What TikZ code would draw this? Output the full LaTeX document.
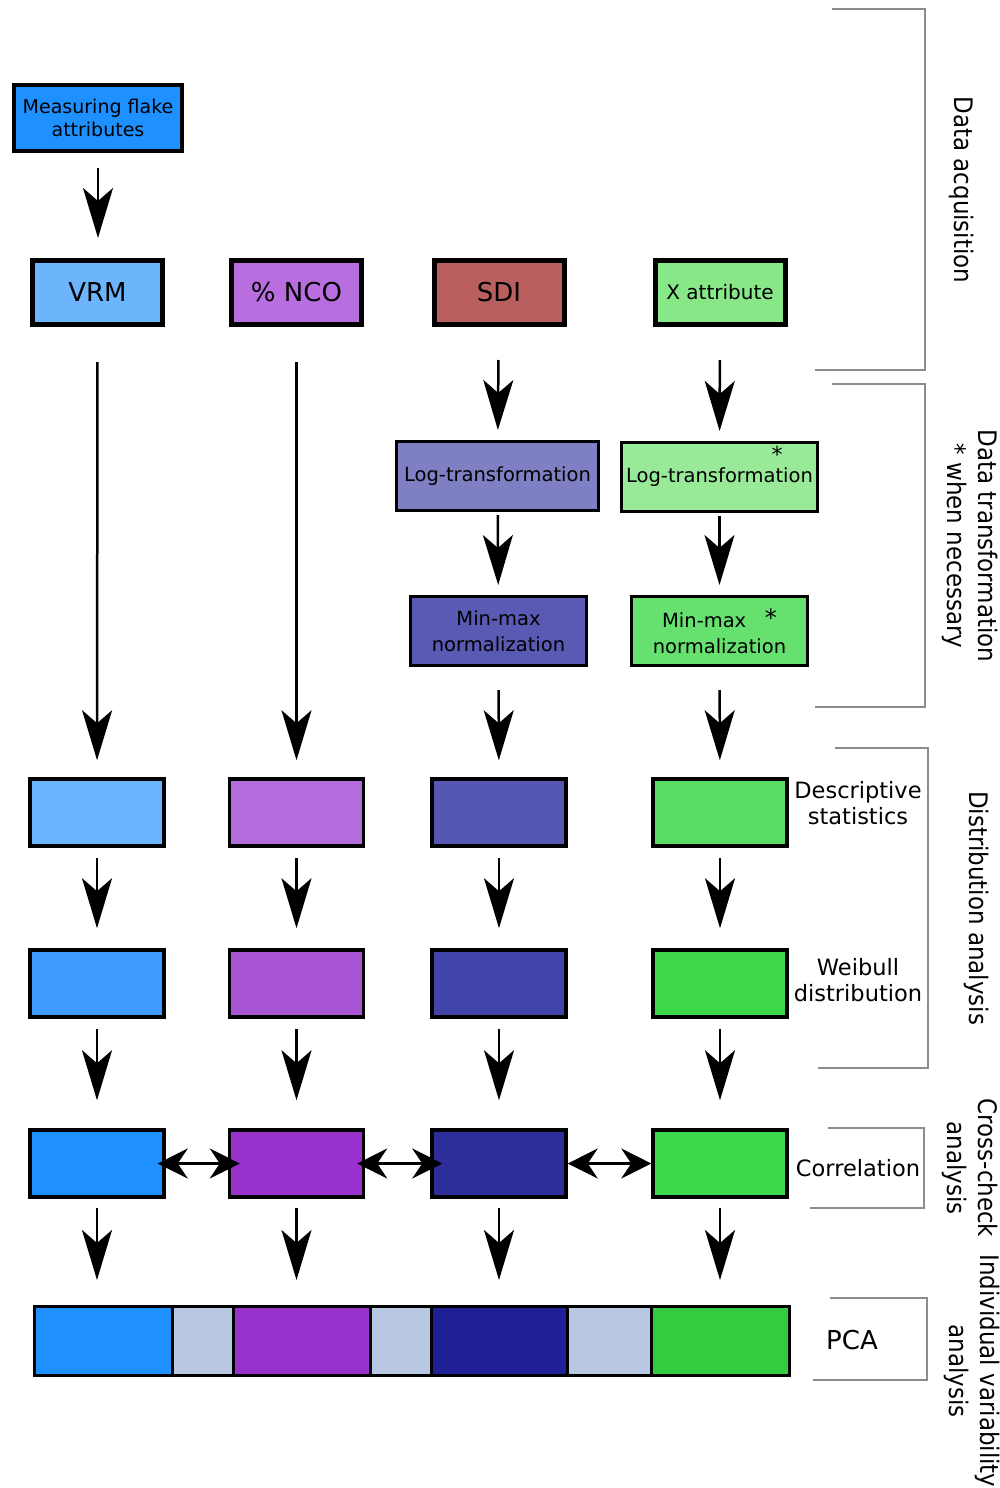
\documentclass[tikz,border=0pt]{standalone}
\usepackage{fontspec}
\setmainfont{DejaVu Sans}
\newfontfamily\sidefont{DejaVu Sans Condensed}
\usetikzlibrary{arrows.meta,positioning}

\begin{document}
\begin{tikzpicture}[x=1pt,y=-1pt,
  topbox/.style={draw,line width=5pt,inner sep=0pt,minimum width=130pt,minimum height=64pt,font=\fontsize{26}{30}\selectfont},
  stepbox/.style={draw,line width=3pt,inner sep=0pt,minimum height=69pt,align=center,font=\fontsize{19.5}{26}\selectfont},
  rowbox/.style={draw,line width=3.5pt,inner sep=0pt,minimum width=134pt,minimum height=67pt},
  pcabox/.style={draw,line width=3pt,inner sep=0pt,minimum height=69pt},
  flowarrow/.style={-{Stealth[length=50pt,width=30pt,inset=13pt]},line width=2.5pt},
  twoway/.style={{Stealth[length=30pt,width=30pt,inset=10pt]}-{Stealth[length=30pt,width=30pt,inset=10pt]},line width=2.5pt},
  bracket/.style={draw=black!45,line width=1.5pt},
  rowlabel/.style={align=center,font=\fontsize{22.5}{26}\selectfont},
  sidelabel/.style={rotate=-90,align=center,font=\sidefont\fontsize{25.5}{31}\selectfont}]
\useasboundingbox (0,0) rectangle (1000,1488);
\definecolor{dodger}{HTML}{1E90FF}
\definecolor{vrmblue}{HTML}{6CB4FC}
\definecolor{ncopurple}{HTML}{B96EE0}
\definecolor{sdired}{HTML}{B95F5F}
\definecolor{xgreen}{HTML}{88E888}
\definecolor{logblue}{HTML}{7F7FC4}
\definecolor{loggreen}{HTML}{98EA98}
\definecolor{normblue}{HTML}{5A5AB4}
\definecolor{normgreen}{HTML}{66E06E}
\definecolor{descA}{HTML}{6BB5FF}
\definecolor{descB}{HTML}{B36CDB}
\definecolor{descC}{HTML}{5657B5}
\definecolor{descD}{HTML}{5ADD63}
\definecolor{weibA}{HTML}{3D9BFF}
\definecolor{weibB}{HTML}{A855D3}
\definecolor{weibC}{HTML}{4244AA}
\definecolor{weibD}{HTML}{3DD94A}
\definecolor{corrA}{HTML}{1E90FF}
\definecolor{corrB}{HTML}{9932CC}
\definecolor{corrC}{HTML}{2D2D9B}
\definecolor{corrD}{HTML}{3AD84A}
\definecolor{pcagray}{HTML}{B8C8E3}
\definecolor{pcanavy}{HTML}{1F1F96}
\definecolor{pcagreen}{HTML}{33CC40}

% data acquisition
\node[draw,line width=4pt,fill=dodger,minimum width=168pt,minimum height=66pt,inner sep=0pt,align=center,
  font=\fontsize{19}{23}\selectfont] (measure) at (98,118) {Measuring flake\\attributes};
\node[topbox,fill=vrmblue] (vrm) at (97.5,292.5) {VRM};
\node[topbox,fill=ncopurple] (nco) at (296.5,292.5) {\% NCO};
\node[topbox,fill=sdired] (sdi) at (499,292.5) {SDI};
\node[topbox,fill=xgreen,font=\fontsize{20}{22}\selectfont] (xattr) at (720,292.5) {X attribute};
\draw[flowarrow,shorten <=15pt,shorten >=20pt] (measure) -- (measure |- vrm.north);

% data transformation
\node[stepbox,fill=logblue,minimum width=202pt] (log3) at (497.5,476) {Log-transformation};
\node[stepbox,fill=loggreen,minimum width=196pt] (log4) at (719.5,477) {Log-transformation};
\node[stepbox,fill=normblue,minimum width=176pt] (norm3) at (498.5,631) {Min-max\\normalization};
\node[stepbox,fill=normgreen,minimum width=176pt] (norm4) at (719.5,631)
  {Min-max~~~\raisebox{1pt}{\fontsize{24}{24}\selectfont*}\\normalization};
\node[font=\fontsize{22}{22}\selectfont,inner sep=0pt] (star4) at (777,454) {*};

% distribution analysis, cross-check
\foreach \crlr/\pos/\xx in {descA/1/97,descB/2/296.5,descC/3/499,descD/4/720}
  {\node[rowbox,fill=\crlr] (desc\pos) at (\xx,812.5) {};}
\foreach \crlr/\pos/\xx in {weibA/1/97,weibB/2/296.5,weibC/3/499,weibD/4/720}
  {\node[rowbox,fill=\crlr] (weib\pos) at (\xx,983.5) {};}
\foreach \crlr/\pos/\xx in {corrA/1/97,corrB/2/296.5,corrC/3/499,corrD/4/720}
  {\node[rowbox,fill=\crlr] (corr\pos) at (\xx,1163.5) {};}

% PCA bar
\foreach \lft/\rgt/\crlr/\pos in {34/172/dodger/1,172/233/pcagray/2,233/370/corrB/3,370/431/pcagray/4,
    431/567/pcanavy/5,567/651/pcagray/6,651/789/pcagreen/7}
  {\node[pcabox,fill=\crlr,minimum width=\rgt-\lft] (pca\pos) at ({(\lft+\rgt)/2},1341) {};}

% arrows
\draw[flowarrow,shorten <=35pt,shorten >=17pt] (vrm) -- (desc1);
\draw[flowarrow,shorten <=35pt,shorten >=17pt] (nco) -- (desc2);
\draw[flowarrow,shorten <=33pt,shorten >=10pt] (sdi) -- (log3);
\draw[flowarrow,shorten <=33pt,shorten >=10pt] (xattr) -- (log4);
\draw[flowarrow,shorten <=3pt,shorten >=10pt] (log3) -- (norm3);
\draw[flowarrow,shorten <=3pt,shorten >=10pt] (log4) -- (norm4);
\draw[flowarrow,shorten <=23pt,shorten >=17pt] (norm3) -- (desc3);
\draw[flowarrow,shorten <=23pt,shorten >=17pt] (norm4) -- (desc4);
\foreach \pos in {1,...,4}
  {\draw[flowarrow,shorten <=10pt,shorten >=20pt] (desc\pos) -- (weib\pos);
   \draw[flowarrow,shorten <=10pt,shorten >=28pt] (weib\pos) -- (corr\pos);}
\foreach \a/\b in {corr1/pca1,corr2/pca3,corr3/pca5,corr4/pca7}
  {\draw[flowarrow,shorten <=9pt,shorten >=25pt] (\a) -- (\a |- \b.north);}
\draw[twoway,shorten <=-8pt,shorten >=-12pt] (corr1) -- (corr2);
\draw[twoway,shorten <=-8pt,shorten >=-12pt] (corr2) -- (corr3);
\draw[twoway] (corr3) -- (corr4);

% row labels
\node[rowlabel] (descl) at (858,803) {Descriptive\\statistics};
\node[rowlabel] (weibl) at (858,980) {Weibull\\distribution};
\node[rowlabel] (corrl) at (858,1168) {Correlation};
\node[rowlabel,font=\fontsize{26}{30}\selectfont] (pcal) at (852,1340) {PCA};

% brackets
\draw[bracket] (832,9) -- (925,9) -- (925,370) -- (815,370);
\draw[bracket] (832,384) -- (925,384) -- (925,707) -- (815,707);
\draw[bracket] (835,748) -- (928,748) -- (928,1068) -- (818,1068);
\draw[bracket] (828,1128) -- (924,1128) -- (924,1208) -- (810,1208);
\draw[bracket] (830,1298) -- (927,1298) -- (927,1380) -- (813,1380);
\node[sidelabel] (acq) at (962,190) {Data acquisition};
\node[sidelabel] (trans) at (970,546) {Data transformation\\* when necessary};
\node[sidelabel] (dist) at (977,908) {Distribution analysis};
\node[sidelabel] (cross) at (970,1168) {Cross-check\\analysis};
\node[sidelabel] (indiv) at (972,1371) {Individual variability\\analysis};
\end{tikzpicture}
\end{document}
